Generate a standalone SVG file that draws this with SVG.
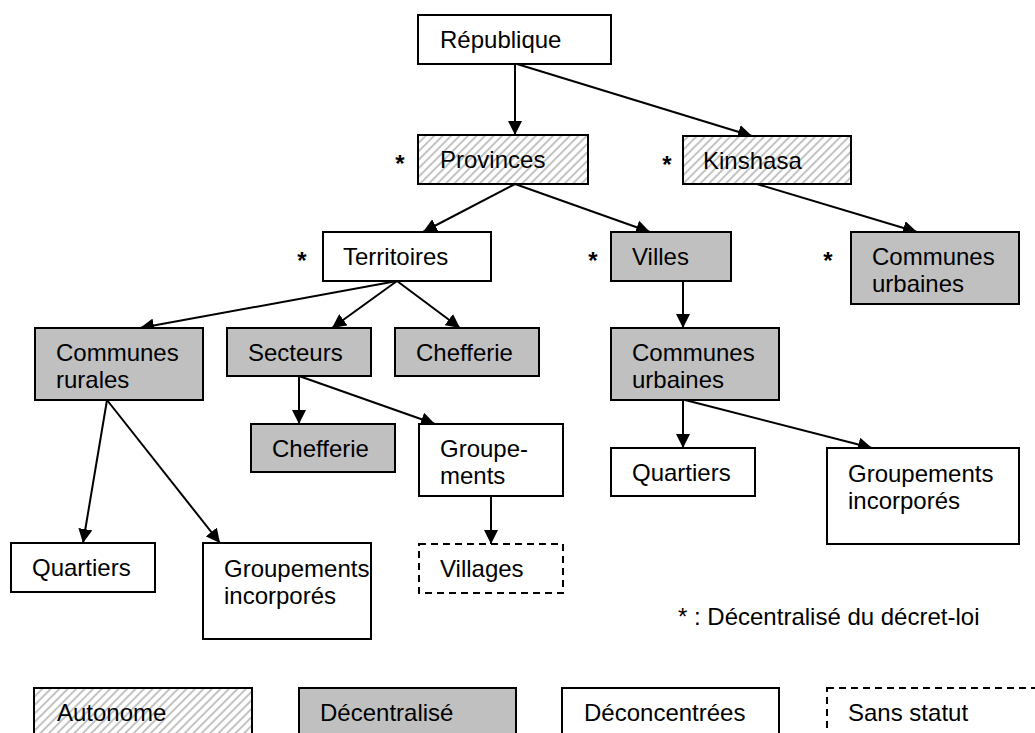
<svg xmlns="http://www.w3.org/2000/svg" width="1035" height="733" viewBox="0 0 1035 733">
<style>
  text { font-family: "Liberation Sans", Arial, sans-serif; font-size: 24px; fill: #000; }
  .ast { font-weight: bold; text-anchor: middle; }
  .box { stroke: #000; stroke-width: 2; }
  .white { fill: #fff; }
  .grey { fill: #c0c0c0; }
  .hatch { fill: url(#hatch); }
  .dash { fill: #fff; stroke-dasharray: 7 5; }
  .conn line { stroke: #000; stroke-width: 2; marker-end: url(#arr); }
</style>
<defs>
  <pattern id="hatch" patternUnits="userSpaceOnUse" width="6" height="6" patternTransform="rotate(45)">
    <rect width="6" height="6" fill="#fff"/>
    <line x1="1" y1="0" x2="1" y2="6" stroke="#b4b4b4" stroke-width="1.6"/>
  </pattern>
  <marker id="arr" viewBox="0 0 14 14" refX="14" refY="7" markerWidth="14" markerHeight="14" markerUnits="userSpaceOnUse" orient="auto">
    <path d="M0,0 L14,7 L0,14 Z" fill="#000"/>
  </marker>
</defs>
<rect width="1035" height="733" fill="#fff"/>

<g class="conn" id="connectors">
  <line x1="515" y1="64" x2="515" y2="135"/>
  <line x1="517" y1="64" x2="752" y2="136"/>
  <line x1="515" y1="184" x2="423" y2="232"/>
  <line x1="515" y1="184" x2="650" y2="232"/>
  <line x1="757" y1="184" x2="917" y2="232"/>
  <line x1="397" y1="281" x2="140" y2="328"/>
  <line x1="397" y1="281" x2="332" y2="328"/>
  <line x1="397" y1="281" x2="460" y2="328"/>
  <line x1="683" y1="281" x2="683" y2="328"/>
  <line x1="107" y1="400" x2="83" y2="543"/>
  <line x1="107" y1="400" x2="220" y2="543"/>
  <line x1="299" y1="376" x2="299" y2="424"/>
  <line x1="299" y1="376" x2="435" y2="424"/>
  <line x1="491" y1="496" x2="491" y2="544"/>
  <line x1="683" y1="400" x2="683" y2="448"/>
  <line x1="685" y1="400" x2="872" y2="448"/>
</g>

<g id="republique"><rect class="box white" x="418" y="15" width="193" height="49"/><text x="440" y="48">République</text></g>
<g id="provinces"><rect class="box hatch" x="418" y="135" width="170" height="49"/><text x="440" y="168">Provinces</text><text class="ast" x="400" y="172">*</text></g>
<g id="kinshasa"><rect class="box hatch" x="683" y="136" width="168" height="48"/><text x="703" y="169">Kinshasa</text><text class="ast" x="667" y="173">*</text></g>
<g id="territoires"><rect class="box white" x="323" y="232" width="168" height="49"/><text x="343" y="265">Territoires</text><text class="ast" x="302" y="269">*</text></g>
<g id="villes"><rect class="box grey" x="611" y="232" width="120" height="49"/><text x="632" y="265">Villes</text><text class="ast" x="593" y="269">*</text></g>
<g id="communes-urbaines-kin"><rect class="box grey" x="851" y="232" width="168" height="72"/><text x="872" y="265">Communes</text><text x="872" y="292">urbaines</text><text class="ast" x="828" y="269">*</text></g>
<g id="communes-rurales"><rect class="box grey" x="35" y="328" width="168" height="72"/><text x="56" y="361">Communes</text><text x="56" y="388">rurales</text></g>
<g id="secteurs"><rect class="box grey" x="227" y="328" width="144" height="48"/><text x="248" y="361">Secteurs</text></g>
<g id="chefferie1"><rect class="box grey" x="395" y="328" width="144" height="48"/><text x="416" y="361">Chefferie</text></g>
<g id="communes-urbaines"><rect class="box grey" x="611" y="328" width="168" height="72"/><text x="632" y="361">Communes</text><text x="632" y="388">urbaines</text></g>
<g id="chefferie2"><rect class="box grey" x="251" y="424" width="144" height="48"/><text x="272" y="457">Chefferie</text></g>
<g id="groupements"><rect class="box white" x="419" y="424" width="144" height="72"/><text x="440" y="457">Groupe-</text><text x="440" y="484">ments</text></g>
<g id="quartiers-v"><rect class="box white" x="611" y="448" width="144" height="48"/><text x="632" y="481">Quartiers</text></g>
<g id="groupements-inc-v"><rect class="box white" x="827" y="448" width="192" height="96"/><text x="848" y="482">Groupements</text><text x="848" y="509">incorporés</text></g>
<g id="quartiers-r"><rect class="box white" x="11" y="543" width="144" height="49"/><text x="32" y="576">Quartiers</text></g>
<g id="groupements-inc-r"><rect class="box white" x="203" y="543" width="168" height="96"/><text x="224" y="577">Groupements</text><text x="224" y="604">incorporés</text></g>
<g id="villages"><rect class="box dash" x="419" y="544" width="144" height="49"/><text x="440" y="577">Villages</text></g>

<text x="678" y="625">* : Décentralisé du décret-loi</text>

<g id="legend">
  <g id="leg-autonome"><rect class="box hatch" x="34" y="688" width="218" height="60"/><text x="57" y="721">Autonome</text></g>
  <g id="leg-decentralise"><rect class="box grey" x="299" y="688" width="217" height="60"/><text x="320" y="721">Décentralisé</text></g>
  <g id="leg-deconcentrees"><rect class="box white" x="562" y="688" width="217" height="60"/><text x="584" y="721">Déconcentrées</text></g>
  <g id="leg-sans"><rect class="box dash" x="827" y="688" width="230" height="60"/><text x="848" y="721">Sans statut</text></g>
</g>
</svg>
